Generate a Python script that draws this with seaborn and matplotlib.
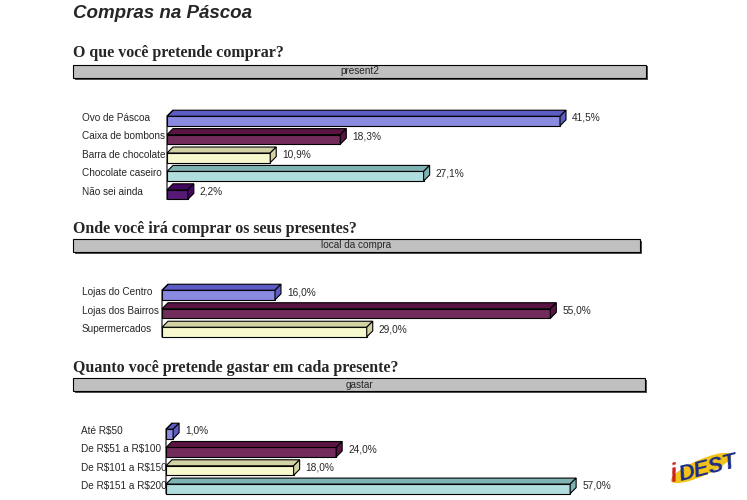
import numpy as np
import matplotlib
matplotlib.use("Agg")
import matplotlib.pyplot as plt
import matplotlib.patches as mpatches
import matplotlib.transforms as mtransforms
import seaborn as sns

# === DATA ===
cats1 = ["Ovo de Páscoa", "Caixa de bombons", "Barra de chocolate",
         "Chocolate caseiro", "Não sei ainda"]
vals1 = [41.5, 18.3, 10.9, 27.1, 2.2]

cats2 = ["Lojas do Centro", "Lojas dos Bairros", "Supermercados"]
vals2 = [16.0, 55.0, 29.0]

cats3 = ["Até R$50", "De R$51 a R$100", "De R$101 a R$150", "De R$151 a R$200"]
vals3 = [1.0, 24.0, 18.0, 57.0]

titles = ["O que você pretende comprar?",
          "Onde você irá comprar os seus presentes?",
          "Quanto você pretende gastar em cada presente?"]
headers = ["present2", "local da compra", "gastar"]

# Excel-ish palette: front face, darker depth face
FACE = ["#7B7BEF", "#7F1F5F", "#FFFFC8", "#A8E4E4", "#5C0A85"]
DEPTH = ["#5C5CC4", "#5A1443", "#D2D2A4", "#7FB3B3", "#400660"]

W, H = 747, 500
DEPTH_PX = 6

sns.set_style("white")
plt.rcParams["font.family"] = ["Liberation Sans", "DejaVu Sans"]
plt.rcParams["text.parse_math"] = False

fig = plt.figure(figsize=(W / 100, H / 100), dpi=100)


def fx(px):
    return px / W


def fy(py):
    return 1 - py / H


def header(y_title, y_box, x0, x1, title, label):
    fig.text(fx(x0), fy(y_title), title, family=["Liberation Serif", "DejaVu Serif"],
             fontsize=11.5, fontweight="bold", va="baseline", ha="left")
    hgt = 13
    # shadow
    fig.patches.append(mpatches.Rectangle((fx(x0 + 1.5), fy(y_box + hgt + 1.5)),
                                          fx(x1 - x0), hgt / H, transform=fig.transFigure,
                                          facecolor="#505050", edgecolor="none", zorder=1))
    fig.patches.append(mpatches.Rectangle((fx(x0), fy(y_box + hgt)), fx(x1 - x0), hgt / H,
                                          transform=fig.transFigure, facecolor="#C0C0C0",
                                          edgecolor="black", linewidth=0.8, zorder=2))
    fig.text(fx((x0 + x1) / 2), fy(y_box + hgt / 2), label, fontsize=7.2,
             ha="center", va="center", zorder=3)


def panel(cats, vals, left, top, spacing, px_per_pct, xmax, label_x):
    n = len(cats)
    ax = fig.add_axes([fx(left), fy(top + n * spacing), fx(xmax * px_per_pct),
                       n * spacing / H])
    sns.barplot(x=vals, y=cats, hue=cats, palette=FACE[:n], orient="h", width=0.52,
                edgecolor="black", linewidth=0.8, legend=False, ax=ax)
    ax.set_xlim(0, xmax)
    ax.set_ylim(n - 0.5, -0.5)
    ax.axis("off")

    to_disp = ax.transData
    to_data = ax.transData.inverted()
    d = DEPTH_PX
    bars = sorted(ax.patches, key=lambda p: p.get_y())
    for i, p in enumerate(bars):
        x0, y0 = p.get_x(), p.get_y()
        x1, y1 = x0 + p.get_width(), y0 + p.get_height()
        (L, a), (R, b) = to_disp.transform([(x0, y0), (x1, y1)])
        T, B = max(a, b), min(a, b)
        top_face = np.array([(L, T), (R, T), (R + d, T + d), (L + d, T + d)])
        side_face = np.array([(R, B), (R, T), (R + d, T + d), (R + d, B + d)])
        for poly, col in ((top_face, DEPTH[i]), (side_face, DEPTH[i])):
            ax.add_patch(mpatches.Polygon(to_data.transform(poly), closed=True,
                                          facecolor=col, edgecolor="black",
                                          linewidth=0.8, clip_on=False, zorder=3))
    # left wall edge
    (L0, T0), = to_disp.transform([(0, bars[0].get_y())])
    (_, B0), = to_disp.transform([(0, bars[-1].get_y() + bars[-1].get_height())])
    wall = np.array([(L0, B0), (L0, T0), (L0 + d, T0 + d)])
    ax.add_line(plt.Line2D(*to_data.transform(wall).T, color="black", lw=0.8,
                           clip_on=False, zorder=4))

    lab_tr = mtransforms.offset_copy(ax.transData, fig=fig, x=d + 6, y=3, units="dots")
    cat_tr = mtransforms.blended_transform_factory(fig.transFigure, ax.transData)
    cat_tr = mtransforms.offset_copy(cat_tr, fig=fig, x=0, y=3, units="dots")
    for i, (c, v) in enumerate(zip(cats, vals)):
        ax.text(v, i, f"{v:.1f}%".replace(".", ","), transform=lab_tr, fontsize=7.3,
                ha="left", va="center", clip_on=False)
        ax.text(fx(label_x), i, c, transform=cat_tr, fontsize=7.2,
                ha="left", va="center", clip_on=False)
    return ax


fig.text(fx(73), fy(18), "Compras na Páscoa", fontsize=13.5, fontweight="bold",
         style="italic", ha="left", va="baseline")

header(57, 65, 73, 646, titles[0], headers[0])
panel(cats1, vals1, left=167, top=111.8, spacing=18.4, px_per_pct=9.47, xmax=50, label_x=82)

header(233, 239, 73, 640, titles[1], headers[1])
panel(cats2, vals2, left=162, top=285.8, spacing=18.5, px_per_pct=7.06, xmax=60, label_x=82)

header(372, 378, 73, 645, titles[2], headers[2])
panel(cats3, vals3, left=166, top=424.8, spacing=18.3, px_per_pct=7.09, xmax=60, label_x=81)

# logo
fig.patches.append(mpatches.Ellipse((fx(701), fy(468)), fx(72), 15 / H, angle=35,
                                    transform=fig.transFigure, facecolor="#F2C418",
                                    edgecolor="none", zorder=1))
fig.text(fx(674), fy(474), "i", fontsize=18, fontweight="bold", style="italic",
         color="#C8201E", ha="center", va="center", rotation=10, zorder=2)
fig.text(fx(708), fy(468), "DEST", fontsize=16, fontweight="bold", style="italic",
         color="#1B2C86", ha="center", va="center", rotation=14, zorder=2)

fig.savefig("out.png", dpi=100)
